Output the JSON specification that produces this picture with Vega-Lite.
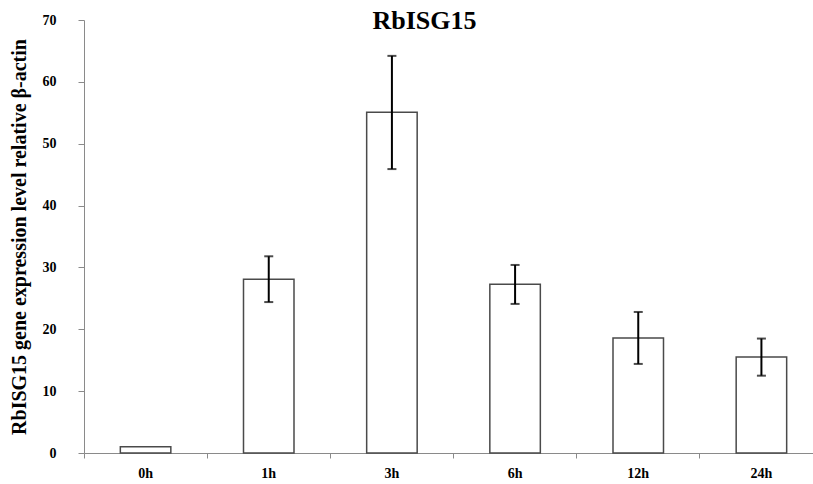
{
  "$schema": "https://vega.github.io/schema/vega-lite/v6.json",
  "width": 739,
  "height": 433,
  "autosize": {"type": "none"},
  "padding": {"left": 84, "top": 20, "right": 0, "bottom": 31},
  "background": "white",
  "title": {
    "text": "RbISG15",
    "font": "Liberation Serif",
    "fontSize": 26,
    "fontWeight": "bold",
    "color": "black",
    "anchor": "middle",
    "frame": "group",
    "dx": -29,
    "dy": 42,
    "offset": 0,
    "baseline": "alphabetic"
  },
  "data": {
    "values": [
      {"time": "0h", "value": 1.0, "lo": 1.0, "hi": 1.0, "err": false},
      {"time": "1h", "value": 28.1, "lo": 24.4, "hi": 31.8, "err": true},
      {"time": "3h", "value": 55.1, "lo": 45.9, "hi": 64.2, "err": true},
      {"time": "6h", "value": 27.3, "lo": 24.1, "hi": 30.4, "err": true},
      {"time": "12h", "value": 18.6, "lo": 14.4, "hi": 22.8, "err": true},
      {"time": "24h", "value": 15.5, "lo": 12.5, "hi": 18.5, "err": true}
    ]
  },
  "encoding": {
    "x": {
      "field": "time",
      "type": "nominal",
      "sort": null,
      "scale": {"paddingInner": 0, "paddingOuter": 0},
      "axis": {
        "title": null,
        "labelAngle": 0,
        "bandPosition": 0,
        "labelFont": "Liberation Serif",
        "labelFontWeight": "bold",
        "labelFontSize": 14,
        "labelColor": "black",
        "labelPadding": 8,
        "labelBaseline": "top",
        "domainColor": "#8a8a8a",
        "domainWidth": 1,
        "tickColor": "#8a8a8a",
        "tickSize": 5
      }
    }
  },
  "layer": [
    {
      "mark": {"type": "bar", "width": {"band": 0.41}, "fill": "white", "stroke": "#4a4a4a", "strokeWidth": 1.5},
      "encoding": {
        "y": {
          "field": "value",
          "type": "quantitative",
          "scale": {"domain": [0, 70], "nice": false},
          "axis": {
            "values": [0, 10, 20, 30, 40, 50, 60, 70],
            "grid": false,
            "title": "RbISG15 gene expression level relative β-actin",
            "titleFont": "Liberation Serif",
            "titleFontWeight": "bold",
            "titleFontSize": 20,
            "titleColor": "black",
            "titlePadding": 13,
            "labelFont": "Liberation Serif",
            "labelFontWeight": "bold",
            "labelFontSize": 14,
            "labelColor": "black",
            "labelPadding": 22,
            "domainColor": "#8a8a8a",
            "domainWidth": 1,
            "tickColor": "#8a8a8a",
            "tickSize": 6
          }
        }
      }
    },
    {
      "transform": [{"filter": "datum.err"}],
      "mark": {"type": "rule", "color": "black", "strokeWidth": 2},
      "encoding": {
        "y": {"field": "lo", "type": "quantitative"},
        "y2": {"field": "hi"}
      }
    },
    {
      "transform": [{"filter": "datum.err"}],
      "mark": {"type": "tick", "color": "black", "thickness": 2, "size": 9, "orient": "horizontal"},
      "encoding": {
        "y": {"field": "lo", "type": "quantitative"}
      }
    },
    {
      "transform": [{"filter": "datum.err"}],
      "mark": {"type": "tick", "color": "black", "thickness": 2, "size": 9, "orient": "horizontal"},
      "encoding": {
        "y": {"field": "hi", "type": "quantitative"}
      }
    }
  ],
  "config": {"view": {"stroke": null}}
}
